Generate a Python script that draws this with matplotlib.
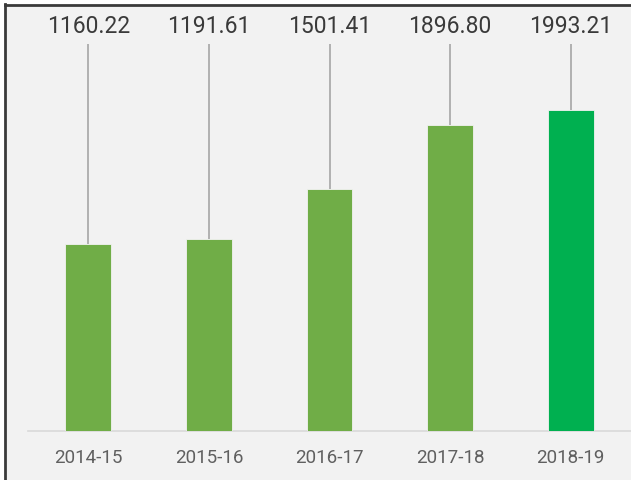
import matplotlib
matplotlib.use("Agg")
import matplotlib.pyplot as plt
from matplotlib.lines import Line2D
from matplotlib.patches import Rectangle

categories = ["2014-15", "2015-16", "2016-17", "2017-18", "2018-19"]
values = [1160.22, 1191.61, 1501.41, 1896.80, 1993.21]
bar_colors = ["#70ad47", "#70ad47", "#70ad47", "#70ad47", "#00b050"]

W, H = 631, 481
fig = plt.figure(figsize=(W / 100, H / 100), dpi=100, facecolor="#f2f2f2")

left, right = 28 / W, 1.0
bottom, top = (H - 432) / H, (H - 45) / H
ax = fig.add_axes([left, bottom, right - left, top - bottom])
ax.set_facecolor("#f2f2f2")

x = list(range(len(categories)))
ax.bar(x, values, width=0.38, color=bar_colors, edgecolor="#f2f2f2", linewidth=0.6, zorder=3)
ymax = 2400
ax.set_xlim(-0.5, len(categories) - 0.5)
ax.set_ylim(0, ymax)
ax.vlines(x, values, ymax, color="#a6a6a6", linewidth=1.2, zorder=2, clip_on=False)

for xi, v in zip(x, values):
    ax.annotate(f"{v:.2f}", xy=(xi, ymax), xytext=(0, 13), textcoords="offset points",
                ha="center", va="center", fontsize=16.5, color="#3a3a3a",
                family=["Roboto", "DejaVu Sans"], annotation_clip=False)

for s in ["top", "right", "left"]:
    ax.spines[s].set_visible(False)
ax.spines["bottom"].set_color("#d9d9d9")
ax.spines["bottom"].set_linewidth(1.2)
ax.set_yticks([])
ax.set_xticks(x)
ax.set_xticklabels(categories, fontsize=13.5, color="#606060",
                   family=["Roboto", "DejaVu Sans"])
ax.tick_params(axis="x", length=0, pad=12)

# outer frame lines (left and top)
fig.add_artist(Line2D([5 / W, 5 / W], [0, 1 - 5 / H], transform=fig.transFigure,
                      color="#3a3a3a", linewidth=2, solid_capstyle="projecting"))
fig.add_artist(Line2D([5 / W, 1], [1 - 6 / H, 1 - 6 / H], transform=fig.transFigure,
                      color="#3a3a3a", linewidth=2, solid_capstyle="projecting"))
# white strip outside the frame
fig.add_artist(Rectangle((0, 0), 4 / W, 1, transform=fig.transFigure, color="white", zorder=0))
fig.add_artist(Rectangle((0, 1 - 5 / H), 1, 5 / H, transform=fig.transFigure, color="white", zorder=0))

fig.savefig("out.png", dpi=100, facecolor="#f2f2f2")
